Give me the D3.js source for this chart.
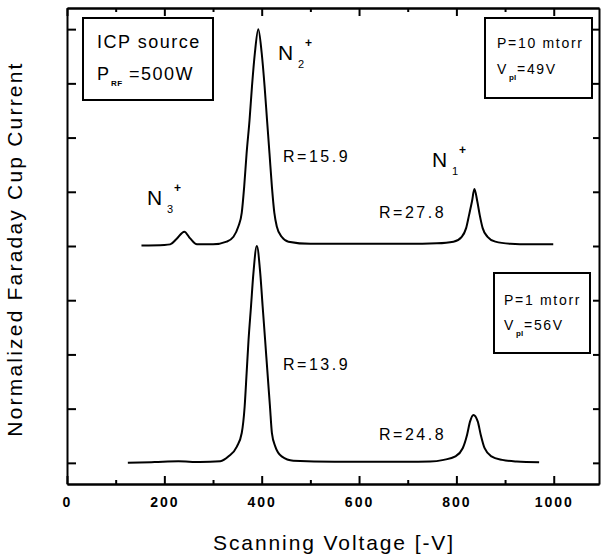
<!DOCTYPE html>
<html>
<head>
<meta charset="utf-8">
<script src="https://cdn.jsdelivr.net/npm/d3@7"></script>
<style>
    body { margin: 0; background: #fff; }
    svg { display: block; font-family: "Liberation Sans", Arial, sans-serif; }
    .axis path, .axis line { stroke: #000; stroke-width: 2; }
    .axis text { font-size: 14px; font-weight: bold; letter-spacing: 2px; fill: #000; }
</style>
</head>
<body>
<svg id="chart" width="601" height="559"></svg>
<script>
// Scanning voltage [-V] and normalized current
// upper trace: P = 10 mtorr (drawn on an offset of 4 units)
const topVoltage = [153, 200, 212, 225, 241, 253, 267, 300, 328, 342, 352, 359, 364, 369, 375, 380, 386, 393,
    400, 406, 411, 416, 421, 426, 431, 441, 455, 500, 600, 700, 760, 794, 811, 820, 826, 832, 837,
    843, 848, 854, 864, 880, 911, 950, 999];
const topCurrent = [4.01, 4.02, 4.03, 4.13, 4.265, 4.14, 4.03, 4.03, 4.08, 4.17, 4.36, 4.61, 5.09, 5.71, 6.32, 6.94, 7.56, 8.0,
    7.56, 6.94, 6.32, 5.71, 5.09, 4.61, 4.36, 4.17, 4.08, 4.04, 4.04, 4.04, 4.05, 4.08, 4.17, 4.33, 4.57, 4.82, 5.05,
    4.82, 4.57, 4.33, 4.17, 4.08, 4.04, 4.03, 4.03];

// lower trace: P = 1 mtorr
const botVoltage = [125, 180, 229, 273, 315, 332, 349, 359, 365, 369, 373, 378, 383, 390,
    397, 402, 407, 412, 417, 421, 428, 441, 465, 550, 650, 746, 774, 798, 813, 822, 828, 835,
    844, 850, 858, 872, 894, 924, 970];
const botCurrent = [0.0, 0.015, 0.03, 0.015, 0.03, 0.12, 0.30, 0.55, 1.04, 1.65, 2.27, 2.88, 3.50, 4.0,
    3.50, 2.88, 2.27, 1.65, 1.04, 0.55, 0.30, 0.12, 0.04, 0.02, 0.02, 0.024, 0.055, 0.12, 0.27, 0.52, 0.76, 0.885,
    0.76, 0.52, 0.27, 0.12, 0.055, 0.024, 0.01];

const xMajorTicks = [0, 200, 400, 600, 800, 1000];
const xMinorTicks = [100, 300, 500, 700, 900];
const yTicks = [0, 1, 2, 3, 4, 5, 6, 7, 8];

const svg = d3.select('#chart');

const x = d3.scaleLinear().domain([0, 1093]).range([67, 599]);
const y = d3.scaleLinear().domain([-0.39, 8.39]).range([484, 8]);

// axes, all ticks pointing inward
function addAxis(axis, transform) {
    svg.append('g').attr('class', 'axis').attr('transform', transform).call(axis);
}
addAxis(d3.axisBottom(x).tickValues(xMinorTicks).tickSize(-4).tickSizeOuter(0).tickFormat(''), 'translate(0,484)');
addAxis(d3.axisBottom(x).tickValues(xMajorTicks).tickSize(-8).tickSizeOuter(0).tickPadding(13).tickFormat(d3.format('d')), 'translate(0,484)');
addAxis(d3.axisTop(x).tickValues(xMinorTicks).tickSize(-4).tickSizeOuter(0).tickFormat(''), 'translate(0,8)');
addAxis(d3.axisTop(x).tickValues(xMajorTicks).tickSize(-8).tickSizeOuter(0).tickFormat(''), 'translate(0,8)');
addAxis(d3.axisLeft(y).tickValues(yTicks).tickSize(-9).tickSizeOuter(0).tickFormat(''), 'translate(67,0)');
addAxis(d3.axisRight(y).tickValues(yTicks).tickSize(-6).tickSizeOuter(0).tickFormat(''), 'translate(599,0)');

// spectra
const line = d3.line()
    .x(d => x(d[0]))
    .y(d => y(d[1]))
    .curve(d3.curveMonotoneX);

[[topVoltage, topCurrent], [botVoltage, botCurrent]].forEach(([vs, cs]) => {
    svg.append('path')
        .datum(vs.map((v, i) => [v, cs[i]]))
        .attr('d', line)
        .attr('fill', 'none')
        .attr('stroke', '#000')
        .attr('stroke-width', 2);
});

// axis titles
svg.append('text')
    .attr('x', 334).attr('y', 550)
    .attr('text-anchor', 'middle')
    .style('font-size', '21px').style('letter-spacing', '1.9px')
    .text('Scanning Voltage [-V]');

svg.append('text')
    .attr('transform', 'translate(22,249) rotate(-90)')
    .attr('text-anchor', 'middle')
    .style('font-size', '21px').style('letter-spacing', '2.2px')
    .text('Normalized Faraday Cup Current');

// small helper for plain text
function label(tx, ty, str, size, spacing, weight) {
    svg.append('text')
        .attr('x', tx).attr('y', ty)
        .style('font-size', size + 'px')
        .style('letter-spacing', (spacing || 0) + 'px')
        .style('font-weight', weight || 'normal')
        .text(str);
}

// ion labels
function ion(tx, ty, sub) {
    label(tx, ty, 'N', 21);
    label(tx + 20, ty + 8, sub, 11);
    label(tx + 27, ty - 13, '+', 12, 0, 'bold');
}
ion(278, 60, '2');
ion(432, 167, '1');
ion(147, 205, '3');

// resolution labels
label(283, 162, 'R=15.9', 16, 2.5);
label(379, 218, 'R=27.8', 16, 2.5);
label(283, 370, 'R=13.9', 16, 2.5);
label(379, 440, 'R=24.8', 16, 2.5);

// boxes
function box(bx, by, bw, bh) {
    svg.append('rect')
        .attr('x', bx).attr('y', by).attr('width', bw).attr('height', bh)
        .attr('fill', '#fff').attr('stroke', '#000').attr('stroke-width', 2);
}

box(83, 18, 130, 82);
label(97, 48, 'ICP source', 18, 1.5);
label(97, 80, 'P', 18);
label(111, 86, 'RF', 8, 0.5, 'bold');
label(129, 80, '=500W', 18, 1.5);

box(485, 18, 107, 80);
label(497, 48, 'P=10 mtorr', 14, 1.7);
label(497, 74, 'V', 14);
label(509, 80, 'pl', 8, 0, 'bold');
label(517, 74, '=49V', 14, 1.7);

box(494, 273, 96, 80);
label(504, 305, 'P=1 mtorr', 14, 1.7);
label(504, 330, 'V', 14);
label(516, 336, 'pl', 8, 0, 'bold');
label(524, 330, '=56V', 14, 1.7);
</script>
</body>
</html>
